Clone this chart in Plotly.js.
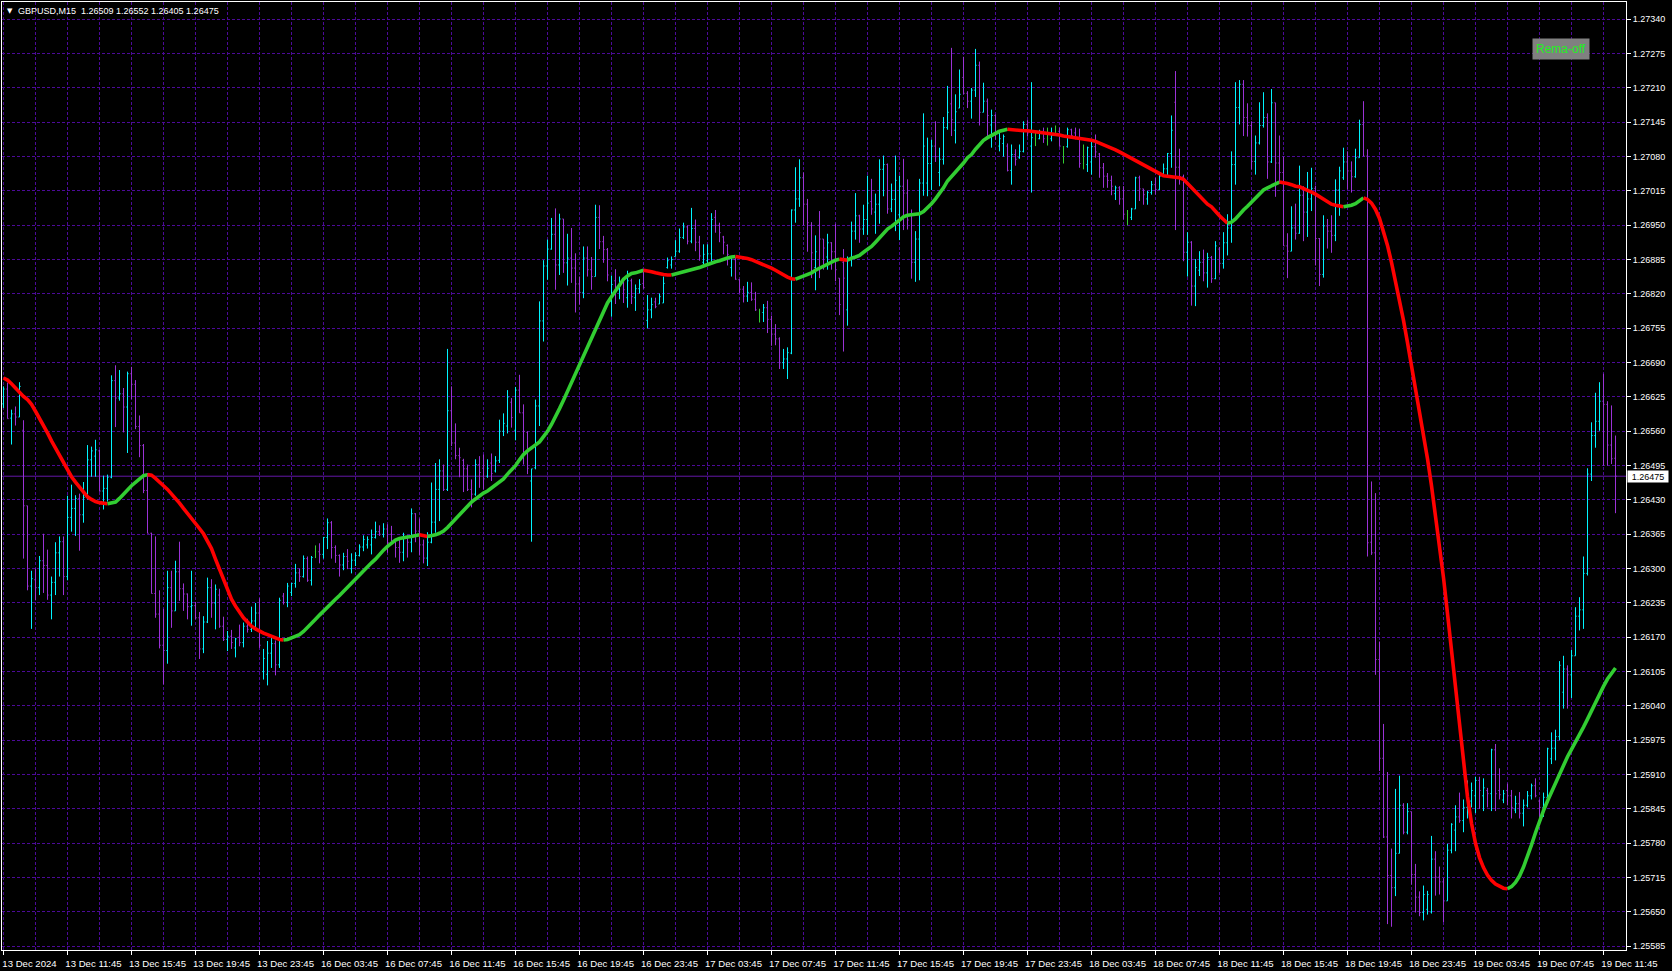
<!DOCTYPE html>
<html>
<head>
<meta charset="utf-8">
<script src="https://cdn.plot.ly/plotly-3.0.1.min.js"></script>
<style>
html,body{margin:0;padding:0;background:#000;overflow:hidden;}
#chart{width:1672px;height:971px;}
</style>
</head>
<body>
<div id="chart"></div>
<script>
// ---------- DATA (GBPUSD, M15, one value per bar) ----------
const symbolName = 'GBPUSD,M15';
const indicatorLabel = 'Rema-off';

const open = [
1.26612,1.26640,1.26585,1.26593,1.26587,1.26562,1.26419,1.26267,1.26279,1.26264,
1.26315,1.26306,1.26250,1.26274,1.26330,1.26351,1.26285,1.26397,1.26414,1.26433,
1.26402,1.26435,1.26506,1.26513,1.26523,1.26447,1.26452,1.26473,1.26656,1.26623,
1.26631,1.26606,1.26669,1.26649,1.26569,1.26533,1.26448,1.26367,1.26253,1.26214,
1.26155,1.26145,1.26264,1.26220,1.26294,1.26262,1.26252,1.26228,1.26230,1.26207,
1.26148,1.26199,1.26264,1.26235,1.26250,1.26191,1.26166,1.26172,1.26150,1.26170,
1.26160,1.26191,1.26185,1.26201,1.26216,1.26105,1.26100,1.26140,1.26158,1.26118,
1.26248,1.26236,1.26255,1.26272,1.26292,1.26285,1.26319,1.26278,1.26332,1.26332,
1.26327,1.26359,1.26387,1.26340,1.26325,1.26307,1.26323,1.26300,1.26316,1.26325,
1.26341,1.26345,1.26345,1.26359,1.26370,1.26365,1.26375,1.26365,1.26352,1.26340,
1.26331,1.26359,1.26350,1.26404,1.26371,1.26345,1.26320,1.26350,1.26388,1.26450,
1.26485,1.26450,1.26599,1.26538,1.26514,1.26505,1.26489,1.26450,1.26441,1.26497,
1.26490,1.26475,1.26500,1.26485,1.26505,1.26560,1.26570,1.26615,1.26562,1.26638,
1.26595,1.26558,1.26466,1.26491,1.26608,1.26769,1.26873,1.26905,1.26933,1.26875,
1.26962,1.26879,1.26888,1.26869,1.26839,1.26823,1.26888,1.26866,1.26853,1.26965,
1.26919,1.26904,1.26806,1.26845,1.26830,1.26843,1.26813,1.26845,1.26813,1.26830,
1.26840,1.26770,1.26790,1.26805,1.26801,1.26803,1.26870,1.26875,1.26891,1.26901,
1.26927,1.26947,1.26920,1.26944,1.26918,1.26880,1.26883,1.26896,1.26965,1.26950,
1.26928,1.26912,1.26870,1.26885,1.26847,1.26829,1.26816,1.26823,1.26810,1.26788,
1.26785,1.26794,1.26772,1.26744,1.26735,1.26690,1.26697,1.26708,1.26979,1.27000,
1.27040,1.26990,1.26950,1.26870,1.26950,1.26924,1.26890,1.26917,1.26900,1.26850,
1.26880,1.26790,1.26885,1.26939,1.26968,1.26943,1.26961,1.26995,1.26975,1.26990,
1.27056,1.27065,1.26981,1.26999,1.26970,1.27024,1.27011,1.26970,1.26880,1.26924,
1.27030,1.27030,1.27067,1.27100,1.27050,1.27075,1.27135,1.27180,1.27130,1.27172,
1.27230,1.27200,1.27185,1.27206,1.27253,1.27164,1.27185,1.27140,1.27158,1.27100,
1.27105,1.27100,1.27054,1.27084,1.27078,1.27090,1.27141,1.27100,1.27114,1.27114,
1.27128,1.27114,1.27114,1.27128,1.27128,1.27099,1.27099,1.27131,1.27125,1.27114,
1.27067,1.27065,1.27070,1.27099,1.27085,1.27059,1.27043,1.27035,1.27010,1.27021,
1.27000,1.26971,1.26965,1.26981,1.27040,1.27019,1.27000,1.27012,1.27027,1.27018,
1.27043,1.27057,1.27086,1.27183,1.27060,1.27042,1.26899,1.26918,1.26835,1.26865,
1.26880,1.26860,1.26889,1.26849,1.26905,1.26878,1.26917,1.26945,1.27065,1.27173,
1.27217,1.27154,1.27139,1.27071,1.27106,1.27139,1.27154,1.27070,1.27182,1.27068,
1.27050,1.26911,1.26901,1.26945,1.26935,1.27007,1.26975,1.27000,1.27020,1.26925,
1.26857,1.26949,1.26939,1.26931,1.27017,1.27040,1.27070,1.27053,1.27042,1.27078,
1.27141,1.27081,1.26350,1.26330,1.26128,1.25941,1.25792,1.25719,1.25696,1.25761,
1.25852,1.25801,1.25840,1.25721,1.25678,1.25649,1.25655,1.25650,1.25750,1.25716,
1.25707,1.25671,1.25767,1.25805,1.25830,1.25823,1.25848,1.25860,1.25870,1.25899,
1.25870,1.25880,1.25874,1.25957,1.25880,1.25862,1.25880,1.25870,1.25843,1.25855,
1.25837,1.25852,1.25870,1.25889,1.25860,1.25848,1.25867,1.25940,1.25960,1.25982,
1.26066,1.26110,1.26099,1.26135,1.26210,1.26222,1.26291,1.26479,1.26552,1.26579,
1.26617,1.26611,1.26534,1.26509];

const high = [
1.26645,1.26652,1.26601,1.26607,1.26653,1.26581,1.26419,1.26296,1.26300,1.26324,
1.26366,1.26336,1.26285,1.26350,1.26361,1.26361,1.26438,1.26459,1.26439,1.26442,
1.26464,1.26534,1.26531,1.26544,1.26525,1.26476,1.26478,1.26666,1.26685,1.26676,
1.26642,1.26673,1.26682,1.26657,1.26590,1.26536,1.26481,1.26368,1.26361,1.26259,
1.26224,1.26296,1.26296,1.26315,1.26351,1.26272,1.26253,1.26296,1.26237,1.26218,
1.26210,1.26283,1.26280,1.26270,1.26262,1.26209,1.26182,1.26184,1.26169,1.26194,
1.26198,1.26205,1.26228,1.26235,1.26244,1.26148,1.26163,1.26171,1.26164,1.26245,
1.26254,1.26273,1.26273,1.26309,1.26300,1.26325,1.26323,1.26324,1.26344,1.26348,
1.26360,1.26395,1.26390,1.26344,1.26327,1.26330,1.26337,1.26329,1.26331,1.26346,
1.26363,1.26361,1.26374,1.26389,1.26382,1.26386,1.26384,1.26381,1.26355,1.26359,
1.26368,1.26363,1.26414,1.26405,1.26395,1.26355,1.26369,1.26463,1.26500,1.26507,
1.26497,1.26716,1.26645,1.26575,1.26529,1.26508,1.26497,1.26469,1.26507,1.26513,
1.26516,1.26507,1.26518,1.26513,1.26582,1.26594,1.26638,1.26623,1.26644,1.26667,
1.26611,1.26560,1.26489,1.26620,1.26806,1.26884,1.26923,1.26964,1.26982,1.26972,
1.26962,1.26934,1.26945,1.26897,1.26853,1.26910,1.26910,1.26890,1.26989,1.26988,
1.26930,1.26907,1.26855,1.26867,1.26853,1.26849,1.26864,1.26849,1.26838,1.26848,
1.26867,1.26818,1.26813,1.26813,1.26821,1.26853,1.26889,1.26891,1.26922,1.26944,
1.26955,1.26950,1.26983,1.26961,1.26930,1.26914,1.26914,1.26973,1.26979,1.26955,
1.26930,1.26914,1.26890,1.26889,1.26848,1.26835,1.26843,1.26842,1.26824,1.26792,
1.26801,1.26807,1.26779,1.26763,1.26738,1.26716,1.26719,1.26980,1.27060,1.27075,
1.27050,1.27000,1.26956,1.26931,1.26977,1.26924,1.26934,1.26918,1.26953,1.26850,
1.26905,1.26891,1.26957,1.27011,1.26970,1.26989,1.27044,1.27038,1.27010,1.27075,
1.27082,1.27067,1.27029,1.27082,1.27044,1.27076,1.27037,1.26980,1.26939,1.27038,
1.27162,1.27116,1.27112,1.27147,1.27097,1.27155,1.27214,1.27286,1.27198,1.27245,
1.27269,1.27204,1.27210,1.27284,1.27260,1.27220,1.27190,1.27169,1.27160,1.27125,
1.27122,1.27105,1.27103,1.27094,1.27103,1.27147,1.27149,1.27221,1.27128,1.27131,
1.27135,1.27135,1.27135,1.27139,1.27135,1.27100,1.27135,1.27133,1.27135,1.27133,
1.27103,1.27099,1.27113,1.27122,1.27087,1.27068,1.27049,1.27044,1.27025,1.27024,
1.27024,1.26979,1.26983,1.27042,1.27044,1.27019,1.27015,1.27034,1.27040,1.27049,
1.27067,1.27087,1.27158,1.27242,1.27095,1.27046,1.26937,1.26920,1.26886,1.26901,
1.26904,1.26898,1.26892,1.26920,1.26909,1.26937,1.26971,1.27090,1.27221,1.27225,
1.27225,1.27181,1.27147,1.27120,1.27183,1.27202,1.27162,1.27208,1.27182,1.27120,
1.27080,1.26935,1.26986,1.26991,1.27063,1.27024,1.27051,1.27059,1.27025,1.26926,
1.26969,1.26962,1.26969,1.27037,1.27061,1.27097,1.27090,1.27071,1.27095,1.27150,
1.27185,1.27094,1.26465,1.26443,1.26162,1.26006,1.25915,1.25770,1.25883,1.25908,
1.25856,1.25856,1.25840,1.25741,1.25689,1.25700,1.25690,1.25794,1.25765,1.25736,
1.25714,1.25779,1.25818,1.25852,1.25876,1.25863,1.25899,1.25895,1.25906,1.25906,
1.25903,1.25885,1.25959,1.25968,1.25922,1.25881,1.25893,1.25881,1.25870,1.25877,
1.25863,1.25879,1.25893,1.25903,1.25863,1.25876,1.25961,1.25990,1.25995,1.26125,
1.26135,1.26117,1.26146,1.26227,1.26246,1.26323,1.26490,1.26577,1.26633,1.26653,
1.26669,1.26617,1.26609,1.26552];

const low = [
1.26604,1.26584,1.26535,1.26571,1.26587,1.26319,1.26259,1.26186,1.26240,1.26250,
1.26254,1.26241,1.26204,1.26250,1.26285,1.26250,1.26278,1.26370,1.26362,1.26334,
1.26387,1.26431,1.26474,1.26474,1.26446,1.26412,1.26427,1.26471,1.26568,1.26618,
1.26558,1.26519,1.26621,1.26564,1.26511,1.26443,1.26367,1.26253,1.26207,1.26149,
1.26081,1.26120,1.26188,1.26220,1.26239,1.26220,1.26204,1.26192,1.26204,1.26129,
1.26140,1.26197,1.26207,1.26185,1.26188,1.26163,1.26144,1.26148,1.26132,1.26153,
1.26151,1.26179,1.26180,1.26182,1.26150,1.26090,1.26079,1.26112,1.26098,1.26112,
1.26232,1.26227,1.26248,1.26264,1.26275,1.26283,1.26275,1.26268,1.26320,1.26310,
1.26319,1.26337,1.26319,1.26311,1.26285,1.26297,1.26299,1.26291,1.26305,1.26323,
1.26333,1.26338,1.26327,1.26357,1.26362,1.26359,1.26330,1.26348,1.26321,1.26311,
1.26314,1.26321,1.26331,1.26350,1.26325,1.26310,1.26305,1.26348,1.26368,1.26390,
1.26447,1.26447,1.26532,1.26507,1.26473,1.26445,1.26447,1.26416,1.26438,1.26453,
1.26450,1.26472,1.26466,1.26482,1.26500,1.26551,1.26556,1.26567,1.26543,1.26595,
1.26497,1.26479,1.26351,1.26488,1.26570,1.26730,1.26847,1.26904,1.26828,1.26856,
1.26860,1.26836,1.26841,1.26785,1.26800,1.26812,1.26853,1.26828,1.26853,1.26905,
1.26879,1.26844,1.26777,1.26801,1.26810,1.26803,1.26794,1.26801,1.26788,1.26821,
1.26830,1.26755,1.26774,1.26793,1.26801,1.26803,1.26868,1.26868,1.26891,1.26898,
1.26924,1.26914,1.26916,1.26901,1.26883,1.26876,1.26878,1.26881,1.26936,1.26918,
1.26895,1.26874,1.26853,1.26847,1.26821,1.26804,1.26805,1.26807,1.26788,1.26766,
1.26767,1.26746,1.26722,1.26723,1.26678,1.26678,1.26659,1.26706,1.26955,1.26985,
1.26950,1.26900,1.26850,1.26827,1.26850,1.26866,1.26866,1.26866,1.26844,1.26780,
1.26711,1.26760,1.26872,1.26923,1.26917,1.26932,1.26932,1.26970,1.26934,1.26953,
1.27005,1.26972,1.26975,1.26939,1.26922,1.26941,1.26942,1.26849,1.26843,1.26846,
1.27006,1.27005,1.27017,1.27070,1.27024,1.27065,1.27131,1.27119,1.27105,1.27172,
1.27198,1.27172,1.27152,1.27193,1.27139,1.27164,1.27116,1.27097,1.27112,1.27090,
1.27080,1.27052,1.27027,1.27063,1.27076,1.27088,1.27118,1.27012,1.27100,1.27113,
1.27106,1.27101,1.27109,1.27122,1.27099,1.27067,1.27097,1.27116,1.27113,1.27059,
1.27056,1.27051,1.27046,1.27078,1.27040,1.27021,1.27021,1.27007,1.26998,1.26989,
1.26961,1.26950,1.26960,1.26981,1.26996,1.26989,1.26989,1.27008,1.27008,1.27017,
1.27042,1.27042,1.27059,1.26941,1.27027,1.26882,1.26853,1.26798,1.26797,1.26854,
1.26844,1.26832,1.26841,1.26848,1.26860,1.26868,1.26893,1.26917,1.27027,1.27141,
1.27119,1.27118,1.27056,1.27046,1.27103,1.27135,1.27038,1.27068,1.27004,1.27029,
1.26911,1.26850,1.26901,1.26923,1.26934,1.26920,1.26928,1.26977,1.26874,1.26835,
1.26851,1.26906,1.26898,1.26920,1.26968,1.27036,1.27018,1.27012,1.27040,1.27078,
1.27081,1.26323,1.26326,1.26099,1.25917,1.25790,1.25627,1.25622,1.25680,1.25761,
1.25797,1.25797,1.25702,1.25649,1.25642,1.25634,1.25645,1.25647,1.25681,1.25683,
1.25631,1.25671,1.25761,1.25765,1.25819,1.25801,1.25827,1.25848,1.25837,1.25845,
1.25841,1.25848,1.25841,1.25841,1.25863,1.25856,1.25852,1.25827,1.25837,1.25827,
1.25812,1.25848,1.25863,1.25867,1.25827,1.25830,1.25867,1.25930,1.25937,1.25975,
1.26035,1.26035,1.26055,1.26135,1.26183,1.26186,1.26287,1.26466,1.26529,1.26561,
1.26495,1.26495,1.26498,1.26405];

const close = [
1.26640,1.26584,1.26593,1.26587,1.26645,1.26419,1.26267,1.26281,1.26264,1.26315,
1.26306,1.26250,1.26274,1.26330,1.26351,1.26285,1.26397,1.26414,1.26433,1.26402,
1.26435,1.26506,1.26523,1.26525,1.26447,1.26452,1.26473,1.26656,1.26623,1.26631,
1.26606,1.26669,1.26649,1.26569,1.26533,1.26448,1.26367,1.26253,1.26214,1.26155,
1.26145,1.26264,1.26220,1.26294,1.26262,1.26252,1.26228,1.26230,1.26207,1.26148,
1.26199,1.26264,1.26235,1.26261,1.26191,1.26166,1.26172,1.26160,1.26167,1.26160,
1.26191,1.26185,1.26201,1.26216,1.26155,1.26130,1.26140,1.26158,1.26118,1.26240,
1.26236,1.26267,1.26272,1.26292,1.26285,1.26319,1.26278,1.26321,1.26332,1.26327,
1.26359,1.26387,1.26340,1.26325,1.26307,1.26323,1.26314,1.26316,1.26325,1.26341,
1.26355,1.26355,1.26359,1.26370,1.26365,1.26375,1.26349,1.26352,1.26340,1.26331,
1.26359,1.26350,1.26404,1.26371,1.26345,1.26320,1.26350,1.26388,1.26450,1.26485,
1.26450,1.26599,1.26538,1.26514,1.26510,1.26489,1.26450,1.26441,1.26497,1.26482,
1.26470,1.26490,1.26480,1.26504,1.26560,1.26575,1.26625,1.26586,1.26638,1.26595,
1.26560,1.26490,1.26489,1.26608,1.26769,1.26873,1.26905,1.26933,1.26875,1.26962,
1.26879,1.26888,1.26869,1.26839,1.26823,1.26888,1.26866,1.26853,1.26965,1.26919,
1.26904,1.26856,1.26838,1.26830,1.26843,1.26828,1.26845,1.26815,1.26830,1.26838,
1.26832,1.26790,1.26800,1.26796,1.26815,1.26840,1.26883,1.26885,1.26901,1.26927,
1.26947,1.26920,1.26944,1.26918,1.26892,1.26895,1.26896,1.26961,1.26950,1.26936,
1.26918,1.26895,1.26889,1.26848,1.26829,1.26816,1.26823,1.26810,1.26790,1.26788,
1.26794,1.26772,1.26744,1.26735,1.26690,1.26697,1.26709,1.26979,1.27000,1.27040,
1.26990,1.26955,1.26898,1.26900,1.26924,1.26907,1.26917,1.26900,1.26866,1.26800,
1.26850,1.26885,1.26939,1.26968,1.26943,1.26961,1.26992,1.26981,1.26990,1.27056,
1.27065,1.26981,1.26999,1.27035,1.27024,1.27011,1.26960,1.26880,1.26924,1.27030,
1.27100,1.27067,1.27100,1.27080,1.27075,1.27135,1.27164,1.27150,1.27165,1.27198,
1.27200,1.27185,1.27206,1.27253,1.27164,1.27185,1.27158,1.27158,1.27125,1.27114,
1.27118,1.27054,1.27084,1.27075,1.27090,1.27141,1.27125,1.27116,1.27114,1.27128,
1.27114,1.27114,1.27120,1.27128,1.27100,1.27099,1.27131,1.27120,1.27114,1.27067,
1.27067,1.27097,1.27099,1.27089,1.27059,1.27043,1.27035,1.27024,1.27021,1.27000,
1.26971,1.26971,1.26981,1.27040,1.27019,1.27008,1.27012,1.27027,1.27018,1.27043,
1.27057,1.27086,1.27130,1.27060,1.27042,1.26899,1.26918,1.26835,1.26870,1.26880,
1.26860,1.26889,1.26849,1.26911,1.26878,1.26917,1.26945,1.27065,1.27173,1.27217,
1.27154,1.27139,1.27071,1.27106,1.27139,1.27154,1.27070,1.27182,1.27068,1.27050,
1.26911,1.26901,1.26945,1.26935,1.27007,1.26975,1.27000,1.27020,1.26925,1.26857,
1.26949,1.26939,1.26931,1.27017,1.27053,1.27070,1.27053,1.27042,1.27078,1.27141,
1.27081,1.26349,1.26330,1.26128,1.25941,1.25792,1.25719,1.25696,1.25761,1.25852,
1.25801,1.25840,1.25721,1.25678,1.25649,1.25683,1.25683,1.25750,1.25716,1.25707,
1.25671,1.25767,1.25816,1.25830,1.25823,1.25848,1.25874,1.25880,1.25899,1.25880,
1.25885,1.25874,1.25957,1.25874,1.25872,1.25874,1.25870,1.25848,1.25855,1.25837,
1.25852,1.25870,1.25889,1.25870,1.25848,1.25867,1.25959,1.25960,1.25982,1.26117,
1.26110,1.26099,1.26135,1.26210,1.26222,1.26291,1.26479,1.26552,1.26579,1.26617,
1.26611,1.26534,1.26508,1.26475];

// smoothed moving average (REMA), one value per bar
const rema = [
1.26661,1.26657,1.26650,1.26642,1.26633,1.26626,1.26620,1.26611,1.26598,1.26585,
1.26571,1.26557,1.26542,1.26528,1.26514,1.26500,1.26486,1.26474,1.26464,1.26454,
1.26444,1.26436,1.26431,1.26427,1.26425,1.26424,1.26423,1.26424,1.26426,1.26433,
1.26442,1.26449,1.26457,1.26464,1.26471,1.26476,1.26478,1.26477,1.26471,1.26465,
1.26457,1.26450,1.26442,1.26433,1.26424,1.26414,1.26405,1.26395,1.26386,1.26376,
1.26366,1.26353,1.26338,1.26318,1.26299,1.26278,1.26259,1.26242,1.26229,1.26218,
1.26207,1.26199,1.26191,1.26186,1.26181,1.26178,1.26175,1.26172,1.26168,1.26166,
1.26165,1.26166,1.26169,1.26172,1.26175,1.26181,1.26188,1.26196,1.26204,1.26212,
1.26220,1.26228,1.26235,1.26242,1.26249,1.26257,1.26264,1.26271,1.26279,1.26287,
1.26295,1.26303,1.26311,1.26318,1.26327,1.26335,1.26342,1.26348,1.26354,1.26357,
1.26359,1.26360,1.26361,1.26363,1.26364,1.26362,1.26361,1.26362,1.26364,1.26367,
1.26371,1.26378,1.26386,1.26395,1.26403,1.26412,1.26420,1.26426,1.26432,1.26438,
1.26443,1.26447,1.26453,1.26458,1.26463,1.26470,1.26479,1.26487,1.26495,1.26506,
1.26516,1.26523,1.26529,1.26534,1.26540,1.26550,1.26560,1.26573,1.26587,1.26603,
1.26619,1.26636,1.26653,1.26671,1.26688,1.26705,1.26720,1.26735,1.26752,1.26771,
1.26790,1.26803,1.26815,1.26827,1.26838,1.26848,1.26854,1.26859,1.26860,1.26862,
1.26865,1.26864,1.26862,1.26860,1.26858,1.26857,1.26856,1.26856,1.26858,1.26860,
1.26862,1.26863,1.26866,1.26868,1.26870,1.26873,1.26876,1.26878,1.26881,1.26883,
1.26886,1.26888,1.26890,1.26891,1.26890,1.26889,1.26887,1.26885,1.26882,1.26879,
1.26876,1.26873,1.26869,1.26865,1.26860,1.26855,1.26852,1.26849,1.26848,1.26851,
1.26854,1.26857,1.26860,1.26865,1.26869,1.26872,1.26876,1.26880,1.26884,1.26886,
1.26885,1.26884,1.26888,1.26890,1.26893,1.26899,1.26904,1.26910,1.26918,1.26926,
1.26934,1.26943,1.26948,1.26955,1.26960,1.26966,1.26969,1.26970,1.26971,1.26972,
1.26976,1.26983,1.26991,1.27000,1.27010,1.27021,1.27034,1.27042,1.27051,1.27059,
1.27068,1.27078,1.27084,1.27094,1.27103,1.27111,1.27116,1.27120,1.27125,1.27128,
1.27130,1.27132,1.27131,1.27130,1.27130,1.27129,1.27129,1.27128,1.27127,1.27127,
1.27126,1.27125,1.27124,1.27123,1.27121,1.27119,1.27118,1.27117,1.27116,1.27115,
1.27114,1.27113,1.27111,1.27109,1.27106,1.27103,1.27100,1.27096,1.27093,1.27089,
1.27085,1.27081,1.27077,1.27073,1.27068,1.27065,1.27061,1.27057,1.27053,1.27048,
1.27044,1.27043,1.27042,1.27041,1.27040,1.27037,1.27029,1.27021,1.27013,1.27004,
1.26997,1.26990,1.26985,1.26976,1.26968,1.26961,1.26954,1.26956,1.26962,1.26971,
1.26979,1.26986,1.26994,1.27002,1.27010,1.27017,1.27021,1.27025,1.27029,1.27032,
1.27031,1.27029,1.27027,1.27024,1.27023,1.27020,1.27017,1.27013,1.27009,1.27004,
1.26999,1.26994,1.26990,1.26988,1.26986,1.26985,1.26986,1.26988,1.26991,1.26996,
1.27002,1.26999,1.26992,1.26980,1.26963,1.26940,1.26912,1.26880,1.26845,1.26808,
1.26770,1.26728,1.26685,1.26643,1.26600,1.26555,1.26508,1.26457,1.26403,1.26345,
1.26283,1.26215,1.26143,1.26069,1.25996,1.25928,1.25868,1.25818,1.25780,1.25753,
1.25734,1.25720,1.25710,1.25703,1.25698,1.25695,1.25694,1.25698,1.25706,1.25718,
1.25735,1.25755,1.25777,1.25800,1.25822,1.25842,1.25860,1.25877,1.25895,1.25913,
1.25929,1.25944,1.25958,1.25971,1.25985,1.26000,1.26015,1.26031,1.26047,1.26062,
1.26077,1.26091,1.26102,1.26112];

// time axis labels (bar index -> label)
const timeTickBars = [0,16,32,48,64,80,96,112,128,144,160,176,192,208,224,240,256,272,288,304,320,336,352,368,384,400];
const timeTickLabels = ['13 Dec 2024','13 Dec 11:45','13 Dec 15:45','13 Dec 19:45','13 Dec 23:45',
 '16 Dec 03:45','16 Dec 07:45','16 Dec 11:45','16 Dec 15:45','16 Dec 19:45','16 Dec 23:45',
 '17 Dec 03:45','17 Dec 07:45','17 Dec 11:45','17 Dec 15:45','17 Dec 19:45','17 Dec 23:45',
 '18 Dec 03:45','18 Dec 07:45','18 Dec 11:45','18 Dec 15:45','18 Dec 19:45','18 Dec 23:45',
 '19 Dec 03:45','19 Dec 07:45','19 Dec 11:45'];

// price axis labels
const priceTicks = [1.25585,1.25650,1.25715,1.25780,1.25845,1.25910,1.25975,1.26040,1.26105,1.26170,
 1.26235,1.26300,1.26365,1.26430,1.26495,1.26560,1.26625,1.26690,1.26755,1.26820,
 1.26885,1.26950,1.27015,1.27080,1.27145,1.27210,1.27275,1.27340];

// ---------- STYLE ----------
const UP = '#00f4ff', DOWN = '#9b32d6', DOJI = '#32cd32';
const MA_UP = '#32cd32', MA_DOWN = '#ff0000';
const GRID = '#4c0a98', BIDLINE = '#6418a8';
const FONT = '"Liberation Sans", Arial, sans-serif';

const idx = open.map((_, i) => i);

// bars: regular and open==close (doji)
const reg = idx.filter(i => open[i] !== close[i]);
const doj = idx.filter(i => open[i] === close[i]);
function minStep(xs){ let m = Infinity; for (let k=1;k<xs.length;k++) m = Math.min(m, xs[k]-xs[k-1]); return isFinite(m)?m:1; }

const traces = [];
traces.push({
  type:'ohlc', x: reg, open: reg.map(i=>open[i]), high: reg.map(i=>high[i]),
  low: reg.map(i=>low[i]), close: reg.map(i=>close[i]),
  increasing:{line:{color:UP, width:1}}, decreasing:{line:{color:DOWN, width:1}},
  tickwidth: Math.min(0.5, 0.28/minStep(reg)), hoverinfo:'skip', showlegend:false
});
traces.push({
  type:'ohlc', x: doj, open: doj.map(i=>open[i]), high: doj.map(i=>high[i]),
  low: doj.map(i=>low[i]), close: doj.map(i=>close[i]),
  increasing:{line:{color:DOJI, width:1}}, decreasing:{line:{color:DOJI, width:1}},
  tickwidth: Math.min(0.5, 0.28/minStep(doj)), hoverinfo:'skip', showlegend:false
});

// REMA line coloured by slope (green rising, red falling)
let dirs = [];
let prev = -1;
for (let i=0;i<rema.length-1;i++){
  const d = rema[i+1]-rema[i];
  const dir = d > 1e-9 ? 1 : (d < -1e-9 ? -1 : prev);
  dirs.push(dir); prev = dir;
}
let s = 0;
for (let i=1;i<=dirs.length;i++){
  if (i === dirs.length || dirs[i] !== dirs[s]){
    traces.push({
      type:'scatter', mode:'lines', x: idx.slice(s, i+1), y: rema.slice(s, i+1),
      line:{color: dirs[s] > 0 ? MA_UP : MA_DOWN, width:3.6}, hoverinfo:'skip', showlegend:false
    });
    s = i;
  }
}

const last = open.length - 1;
const fmt = v => v.toFixed(5);
const minorBars = timeTickBars.map(b => b + 8);

const layout = {
  width:1672, height:971,
  paper_bgcolor:'#000000', plot_bgcolor:'#000000',
  margin:{l:2, r:46, t:2, b:21, pad:0},
  showlegend:false,
  font:{family:FONT, size:9, color:'#ffffff'},
  xaxis:{
    type:'linear', range:[-0.375, 405.625], rangeslider:{visible:false}, fixedrange:true,
    tickmode:'array', tickvals:timeTickBars, ticktext:timeTickLabels,
    ticks:'outside', ticklen:4, tickwidth:1, tickcolor:'#ffffff',
    ticklabelshift:26, tickfont:{family:FONT, size:9.6, color:'#ffffff'},
    showgrid:true, gridcolor:GRID, gridwidth:1, griddash:'3px,2px',
    minor:{tickmode:'array', tickvals:minorBars, showgrid:true, gridcolor:GRID, gridwidth:1, griddash:'3px,2px', ticks:''},
    showline:true, linecolor:'#ffffff', linewidth:1, mirror:true, zeroline:false
  },
  yaxis:{
    side:'right', range:[1.255780, 1.273728], fixedrange:true,
    tickmode:'array', tickvals:priceTicks, ticktext:priceTicks.map(fmt),
    ticks:'outside', ticklen:4, tickwidth:1, tickcolor:'#ffffff',
    tickfont:{family:FONT, size:9, color:'#ffffff'},
    showgrid:true, gridcolor:GRID, gridwidth:1, griddash:'3px,2px',
    showline:true, linecolor:'#ffffff', linewidth:1, mirror:true, zeroline:false
  },
  shapes:[{
    type:'line', xref:'paper', x0:0, x1:1, yref:'y', y0:close[last], y1:close[last],
    line:{color:BIDLINE, width:1}, layer:'below'
  }],
  annotations:[
    {xref:'paper', yref:'paper', x:0, y:1, xanchor:'left', yanchor:'top', xshift:3, yshift:-3,
     text:'\u25BC', showarrow:false, font:{family:'"DejaVu Sans", sans-serif', size:7, color:'#ffffff'}},
    {xref:'paper', yref:'paper', x:0, y:1, xanchor:'left', yanchor:'top', xshift:14, yshift:-2,
     text: symbolName + '\u00a0\u00a0' + [open[last],high[last],low[last],close[last]].map(fmt).join(' '),
     showarrow:false, font:{family:FONT, size:9, color:'#ffffff'}},
    {xref:'paper', yref:'paper', x:(1561-2)/1624, y:1-(49-2)/948, xanchor:'center', yanchor:'middle',
     text:indicatorLabel, showarrow:false, bgcolor:'#808080', borderpad:3,
     font:{family:FONT, size:12, color:'#1ff01f'}},
    {xref:'paper', yref:'y', x:1, y:close[last], xanchor:'left', yanchor:'middle', xshift:1,
     text:fmt(close[last]), showarrow:false, bgcolor:'#ffffff', width:40, height:11, borderpad:0,
     font:{family:FONT, size:9, color:'#000000'}}
  ]
};

Plotly.newPlot('chart', traces, layout, {staticPlot:true, displayModeBar:false, responsive:false});
</script>
</body>
</html>
